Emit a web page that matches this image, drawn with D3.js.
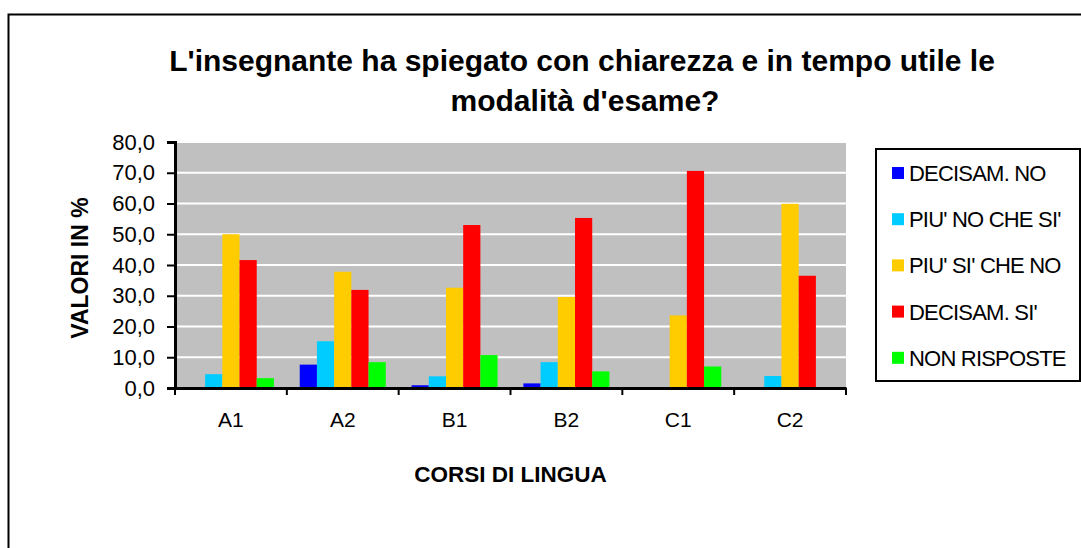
<!DOCTYPE html>
<html>
<head>
<meta charset="utf-8">
<script src="https://cdn.jsdelivr.net/npm/d3@7"></script>
<style>
  body { margin: 0; background: #fff; }
  text { font-family: "Liberation Sans", Arial, sans-serif; }
</style>
</head>
<body>
<div id="chart"></div>
<script>
const categories = ["A1", "A2", "B1", "B2", "C1", "C2"];
const seriesNames = ["DECISAM. NO", "PIU' NO CHE SI'", "PIU' SI' CHE NO", "DECISAM. SI'", "NON RISPOSTE"];
const seriesColors = ["#0000ff", "#00ccff", "#ffcc00", "#ff0000", "#00ff00"];
// one array per series, values in %, order = categories
const decisamNo   = [0.0, 7.6, 0.9, 1.5, 0.0, 0.0];
const piuNoCheSi  = [4.5, 15.2, 3.8, 8.4, 0.0, 3.9];
const piuSiCheNo  = [50.0, 37.8, 32.6, 29.6, 23.6, 59.9];
const decisamSi   = [41.6, 31.9, 53.0, 55.3, 70.6, 36.5];
const nonRisposte = [3.2, 8.4, 10.7, 5.4, 7.0, 0.0];
const yTicks = [0, 10, 20, 30, 40, 50, 60, 70, 80];

const seriesValues = [decisamNo, piuNoCheSi, piuSiCheNo, decisamSi, nonRisposte];

const W = 1081, H = 548;
const plot = { left: 175, right: 846, top: 142, bottom: 388 };

const svg = d3.select("#chart").append("svg")
    .attr("width", W)
    .attr("height", H);

// outer frame (runs off the right and bottom edges)
svg.append("rect")
    .attr("x", 8.5).attr("y", 14.5)
    .attr("width", 1200).attr("height", 700)
    .attr("fill", "none").attr("stroke", "#000").attr("stroke-width", 2);

// title
const title = svg.append("text")
    .attr("text-anchor", "middle")
    .attr("font-size", 30)
    .attr("font-weight", "bold");
title.append("tspan").attr("x", 582).attr("y", 71)
    .text("L'insegnante ha spiegato con chiarezza e in tempo utile le");
title.append("tspan").attr("x", 585).attr("y", 111)
    .text("modalità d'esame?");

// scales
const x = d3.scaleBand()
    .domain(categories)
    .range([plot.left, plot.right])
    .paddingInner(0).paddingOuter(0);

const xs = d3.scaleBand()
    .domain(d3.range(seriesNames.length))
    .range([0, x.bandwidth()])
    .paddingInner(0).paddingOuter(0.75);

const y = d3.scaleLinear()
    .domain([0, 80])
    .range([plot.bottom, plot.top]);

// plot background
svg.append("rect")
    .attr("x", plot.left).attr("y", plot.top)
    .attr("width", plot.right - plot.left)
    .attr("height", plot.bottom - plot.top)
    .attr("fill", "#c0c0c0");

// white gridlines
svg.append("g")
  .selectAll("line")
  .data(yTicks.filter(d => d > 0))
  .join("line")
    .attr("x1", plot.left).attr("x2", plot.right)
    .attr("y1", d => y(d)).attr("y2", d => y(d))
    .attr("stroke", "#fff").attr("stroke-width", 2);

// bars
const rows = categories.map((c, i) => ({ cat: c, vals: seriesValues.map(s => s[i]) }));
svg.append("g")
  .selectAll("g")
  .data(rows)
  .join("g")
    .attr("transform", d => `translate(${x(d.cat)},0)`)
  .selectAll("rect")
  .data(d => d.vals.map((v, k) => ({ k: k, v: v })))
  .join("rect")
    .attr("x", d => xs(d.k))
    .attr("y", d => y(d.v))
    .attr("width", xs.bandwidth())
    .attr("height", d => y(0) - y(d.v))
    .attr("fill", d => seriesColors[d.k]);

// Y axis
const yAxis = svg.append("g")
    .attr("transform", `translate(${plot.left},0)`)
    .call(d3.axisLeft(y)
      .tickValues(yTicks)
      .tickSize(8)
      .tickPadding(12)
      .tickFormat(d => d3.format(".1f")(d).replace(".", ",")));
yAxis.select(".domain").attr("stroke-width", 3);
yAxis.selectAll(".tick line").attr("stroke-width", 2);
yAxis.selectAll("text")
    .attr("font-size", 22)
    .attr("font-family", "'Liberation Sans', Arial, sans-serif")
    .attr("fill", "#000");

// X axis: ticks at category boundaries
const xAxis = svg.append("g")
    .attr("transform", `translate(0,${plot.bottom})`)
    .call(d3.axisBottom(x).tickSize(0).tickPadding(24));
xAxis.select(".domain").attr("stroke-width", 3);
xAxis.selectAll("text")
    .attr("font-size", 21)
    .attr("font-family", "'Liberation Sans', Arial, sans-serif")
    .attr("fill", "#000");
xAxis.selectAll(".bound")
  .data(categories.map(c => x(c)).concat([plot.right]))
  .join("line")
    .attr("class", "bound")
    .attr("x1", d => d).attr("x2", d => d)
    .attr("y1", 0).attr("y2", 7)
    .attr("stroke", "#000").attr("stroke-width", 2);

// axis titles
svg.append("text")
    .attr("transform", `translate(88,${(plot.top + plot.bottom) / 2 + 3}) rotate(-90)`)
    .attr("text-anchor", "middle")
    .attr("font-size", 23)
    .attr("font-weight", "bold")
    .text("VALORI IN %");

svg.append("text")
    .attr("x", (plot.left + plot.right) / 2)
    .attr("y", 482)
    .attr("text-anchor", "middle")
    .attr("font-size", 22.5)
    .attr("font-weight", "bold")
    .text("CORSI DI LINGUA");

// legend
svg.append("rect")
    .attr("x", 876).attr("y", 149)
    .attr("width", 204).attr("height", 232)
    .attr("fill", "#fff").attr("stroke", "#000").attr("stroke-width", 2);

const legend = svg.append("g")
  .selectAll("g")
  .data(seriesNames)
  .join("g")
    .attr("transform", (d, i) => `translate(892,${173 + i * 46.2})`);
legend.append("rect")
    .attr("x", 0).attr("y", -6)
    .attr("width", 12).attr("height", 12)
    .attr("fill", (d, i) => seriesColors[i]);
legend.append("text")
    .attr("x", 17).attr("y", 8)
    .attr("font-size", 22)
    .attr("letter-spacing", -0.8)
    .text(d => d);
</script>
</body>
</html>
